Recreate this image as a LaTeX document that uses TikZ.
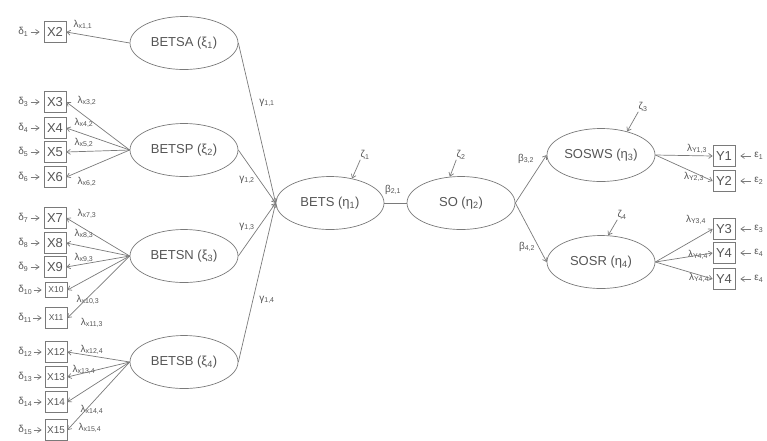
\documentclass[tikz,border=0pt]{standalone}
\usepackage{fontspec}
\setmainfont{Liberation Sans}
\usepackage{xcolor}
\usetikzlibrary{shapes.geometric,arrows.meta}
\definecolor{linegray}{HTML}{7A7A7A}
\definecolor{textgray}{HTML}{555555}
\begin{document}
\begin{tikzpicture}[
  x=1pt, y=-1pt, line width=0.7pt,
  latent/.style={ellipse,draw=linegray,minimum width=108pt,minimum height=53pt,inner sep=0pt,text=textgray,font=\fontsize{13}{15}\selectfont},
  obs/.style={rectangle,draw=linegray,minimum width=22pt,minimum height=21pt,inner sep=0pt,text=textgray,font=\fontsize{13}{15}\selectfont},
  mobs/.style={obs,font=\fontsize{10}{12}\selectfont},
  sobs/.style={obs,font=\fontsize{8.5}{10}\selectfont},
  tobs/.style={sobs,minimum height=15pt},
  coef/.style={inner sep=0pt,text=textgray,font=\fontsize{10}{12}\selectfont},
  err/.style={coef,anchor=west},
  arr/.style={draw=linegray,-{Straight Barb[length=3.5pt,width=5pt]}}
]
  \useasboundingbox (0,0) rectangle (767,440);
  \node[latent] (betsa) at (184,43) {BETSA (ξ\textsubscript{1})};
  \node[latent] (betsp) at (184,150) {BETSP (ξ\textsubscript{2})};
  \node[latent] (betsn) at (184,256) {BETSN (ξ\textsubscript{3})};
  \node[latent] (betsb) at (184,362) {BETSB (ξ\textsubscript{4})};
  \node[latent] (bets) at (330,203) {BETS (η\textsubscript{1})};
  \node[latent] (so) at (461,203) {SO (η\textsubscript{2})};
  \node[latent] (sosws) at (601,155) {SOSWS (η\textsubscript{3})};
  \node[latent] (sosr) at (601,262) {SOSR (η\textsubscript{4})};
  \node[obs] (x2) at (55,32) {X2};
  \node[obs] (x3) at (55,102) {X3};
  \node[obs] (x4) at (55,128) {X4};
  \node[obs] (x5) at (55,152) {X5};
  \node[obs] (x6) at (55,177) {X6};
  \node[obs] (x7) at (55,218) {X7};
  \node[obs] (x8) at (55,243) {X8};
  \node[obs] (x9) at (55,267) {X9};
  \node[tobs] (x10) at (56,290) {X10};
  \node[sobs] (x11) at (56,318) {X11};
  \node[mobs] (x12) at (56,352) {X12};
  \node[mobs] (x13) at (56,377) {X13};
  \node[mobs] (x14) at (56,402) {X14};
  \node[mobs] (x15) at (56,430) {X15};
  \node[obs] (y1) at (724,156) {Y1};
  \node[obs] (y2) at (724,181) {Y2};
  \node[obs] (y3) at (724,229) {Y3};
  \node[obs] (y4) at (724,253) {Y4};
  \node[obs] (y4b) at (724,279) {Y4};
  \node[err] (d2) at (18,32) {δ\textsubscript{1}};
  \node[err] (d3) at (18,102) {δ\textsubscript{3}};
  \node[err] (d4) at (18,128) {δ\textsubscript{4}};
  \node[err] (d5) at (18,152) {δ\textsubscript{5}};
  \node[err] (d6) at (18,177) {δ\textsubscript{6}};
  \node[err] (d7) at (18,218) {δ\textsubscript{7}};
  \node[err] (d8) at (18,243) {δ\textsubscript{8}};
  \node[err] (d9) at (18,267) {δ\textsubscript{9}};
  \node[err] (d10) at (18,290) {δ\textsubscript{10}};
  \node[err] (d11) at (18,318) {δ\textsubscript{11}};
  \node[err] (d12) at (18,352) {δ\textsubscript{12}};
  \node[err] (d13) at (18,377) {δ\textsubscript{13}};
  \node[err] (d14) at (18,402) {δ\textsubscript{14}};
  \node[err] (d15) at (18,430) {δ\textsubscript{15}};
  \node[err] (e1) at (754,156) {ε\textsubscript{1}};
  \node[err] (e2) at (754,181) {ε\textsubscript{2}};
  \node[err] (e3) at (754,229) {ε\textsubscript{3}};
  \node[err] (e4) at (754,253) {ε\textsubscript{4}};
  \node[err] (e4b) at (754,279) {ε\textsubscript{4}};
  \node[coef] (l2) at (83,25) {λ\textsubscript{x1,1}};
  \node[coef] (l3) at (87,101) {λ\textsubscript{x3,2}};
  \node[coef] (l4) at (84,123) {λ\textsubscript{x4,2}};
  \node[coef] (l5) at (84,143) {λ\textsubscript{x5,2}};
  \node[coef] (l6) at (87,182) {λ\textsubscript{x6,2}};
  \node[coef] (l7) at (87,214) {λ\textsubscript{x7,3}};
  \node[coef] (l8) at (84,234) {λ\textsubscript{x8,3}};
  \node[coef] (l9) at (84,258) {λ\textsubscript{x9,3}};
  \node[coef] (l10) at (88,300) {λ\textsubscript{x10,3}};
  \node[coef] (l11) at (92,323) {λ\textsubscript{x11,3}};
  \node[coef] (l12) at (92,350) {λ\textsubscript{x12,4}};
  \node[coef] (l13) at (84,370) {λ\textsubscript{x13,4}};
  \node[coef] (l14) at (92,410) {λ\textsubscript{x14,4}};
  \node[coef] (l15) at (90,428) {λ\textsubscript{x15,4}};
  \node[coef] (m1) at (697,149) {λ\textsubscript{Y1,3}};
  \node[coef] (m2) at (694,177) {λ\textsubscript{Y2,3}};
  \node[coef] (m3) at (696,220) {λ\textsubscript{Y3,4}};
  \node[coef] (m4) at (698,255) {λ\textsubscript{Y4,4}};
  \node[coef] (m5) at (699,278) {λ\textsubscript{Y4,4}};
  \node[coef] (g1) at (267,103) {γ\textsubscript{1,1}};
  \node[coef] (g2) at (247,180) {γ\textsubscript{1,2}};
  \node[coef] (g3) at (247,227) {γ\textsubscript{1,3}};
  \node[coef] (g4) at (267,300) {γ\textsubscript{1,4}};
  \node[coef] (b21) at (393,190) {β\textsubscript{2,1}};
  \node[coef] (b32) at (526,159) {β\textsubscript{3,2}};
  \node[coef] (b42) at (527,247) {β\textsubscript{4,2}};
  \node[coef] (z1) at (365,155) {ζ\textsubscript{1}};
  \node[coef] (z2) at (461,155) {ζ\textsubscript{2}};
  \node[coef] (z3) at (643,107) {ζ\textsubscript{3}};
  \node[coef] (z4) at (622,215) {ζ\textsubscript{4}};
  \draw[arr] (betsa.west) -- (x2.east);
  \draw[arr] (betsp.west) -- (x3.east);
  \draw[arr] (betsp.west) -- (x4.east);
  \draw[arr] (betsp.west) -- (x5.east);
  \draw[arr] (betsp.west) -- (x6.east);
  \draw[arr] (betsn.west) -- (x7.east);
  \draw[arr] (betsn.west) -- (x8.east);
  \draw[arr] (betsn.west) -- (x9.east);
  \draw[arr] (betsn.west) -- (x10.east);
  \draw[arr] (betsn.west) -- (x11.east);
  \draw[arr] (betsb.west) -- (x12.east);
  \draw[arr] (betsb.west) -- (x13.east);
  \draw[arr] (betsb.west) -- (x14.east);
  \draw[arr] (betsb.west) -- (x15.east);
  \draw[arr] (betsa.east) -- (bets.west);
  \draw[arr] (betsp.east) -- (bets.west);
  \draw[arr] (betsn.east) -- (bets.west);
  \draw[arr] (betsb.east) -- (bets.west);
  \draw[draw=linegray] (bets.east) -- (so.west);
  \draw[arr] (so.east) -- (sosws.west);
  \draw[arr] (so.east) -- (sosr.west);
  \draw[arr] (sosws.east) -- (y1.west);
  \draw[arr] (sosws.east) -- (y2.west);
  \draw[arr] (sosr.east) -- (y3.west);
  \draw[arr] (sosr.east) -- (y4.west);
  \draw[arr] (sosr.east) -- (y4b.west);
  \draw[arr] (z1.south west) -- (bets.48);
  \draw[arr] (z2.south west) -- (so.113);
  \draw[arr] (z3.south west) -- (sosws.42);
  \draw[arr] (z4.south west) -- (sosr.75);
  \draw[arr,shorten <=2pt,shorten >=4pt] (d2.east) -- (x2.west);
  \draw[arr,shorten <=2pt,shorten >=4pt] (d3.east) -- (x3.west);
  \draw[arr,shorten <=2pt,shorten >=4pt] (d4.east) -- (x4.west);
  \draw[arr,shorten <=2pt,shorten >=4pt] (d5.east) -- (x5.west);
  \draw[arr,shorten <=2pt,shorten >=4pt] (d6.east) -- (x6.west);
  \draw[arr,shorten <=2pt,shorten >=4pt] (d7.east) -- (x7.west);
  \draw[arr,shorten <=2pt,shorten >=4pt] (d8.east) -- (x8.west);
  \draw[arr,shorten <=2pt,shorten >=4pt] (d9.east) -- (x9.west);
  \draw[arr,shorten <=1pt,shorten >=3pt] (d10.east) -- (x10.west);
  \draw[arr,shorten <=1pt,shorten >=3pt] (d11.east) -- (x11.west);
  \draw[arr,shorten <=1pt,shorten >=3pt] (d12.east) -- (x12.west);
  \draw[arr,shorten <=1pt,shorten >=3pt] (d13.east) -- (x13.west);
  \draw[arr,shorten <=1pt,shorten >=3pt] (d14.east) -- (x14.west);
  \draw[arr,shorten <=1pt,shorten >=3pt] (d15.east) -- (x15.west);
  \draw[arr,shorten <=3pt,shorten >=5pt] (e1.west) -- (y1.east);
  \draw[arr,shorten <=3pt,shorten >=5pt] (e2.west) -- (y2.east);
  \draw[arr,shorten <=3pt,shorten >=5pt] (e3.west) -- (y3.east);
  \draw[arr,shorten <=3pt,shorten >=5pt] (e4.west) -- (y4.east);
  \draw[arr,shorten <=3pt,shorten >=5pt] (e4b.west) -- (y4b.east);
\end{tikzpicture}
\end{document}
